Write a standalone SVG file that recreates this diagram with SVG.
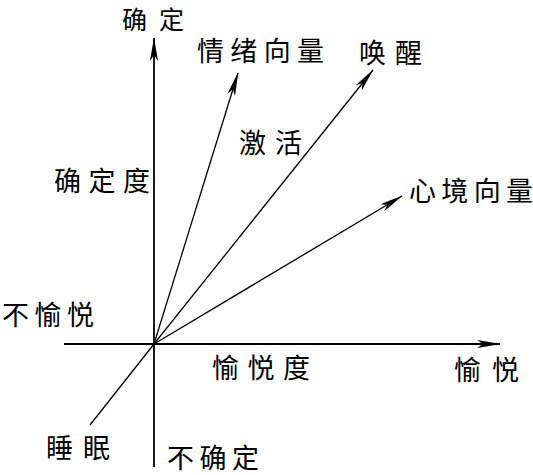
<svg xmlns="http://www.w3.org/2000/svg" width="533" height="475" viewBox="0 0 533 475">
<style>
.t{font-family:"Noto Sans CJK SC","Noto Sans CJK JP",sans-serif;font-size:27px;fill:#000}
.ax{stroke:#000;stroke-width:1.8;fill:none}
.v{stroke:#000;stroke-width:1.3;fill:none}
</style>
<defs>
<marker id="ah" viewBox="0 0 24 8" refX="23" refY="4" markerUnits="userSpaceOnUse" markerWidth="24" markerHeight="8" orient="auto">
<path d="M0,0 L24,4 L0,8 L6,4 z" fill="#000"/>
</marker>
</defs>
<rect width="533" height="475" fill="#fff"/>
<g id="connectors">
<line class="ax" x1="64" y1="344" x2="500" y2="344" marker-end="url(#ah)"/>
<line class="ax" x1="154" y1="467" x2="154" y2="38" marker-end="url(#ah)"/>
<line class="v" x1="154" y1="344" x2="238" y2="73" marker-end="url(#ah)"/>
<line class="v" x1="154" y1="344" x2="373" y2="70" marker-end="url(#ah)"/>
<line class="v" x1="154" y1="344" x2="402" y2="196" marker-end="url(#ah)"/>
<line class="v" x1="154" y1="344" x2="90" y2="425"/>
</g>
<g id="label-queding"><text class="t" x="122" y="29" style="font-size:25px" textLength="62" lengthAdjust="spacing">确定</text></g>
<g id="label-qingxu"><text class="t" x="197" y="61" textLength="127" lengthAdjust="spacing">情绪向量</text></g>
<g id="label-huanxing"><text class="t" x="359" y="63" textLength="63" lengthAdjust="spacing">唤醒</text></g>
<g id="label-jihuo"><text class="t" x="239" y="153" textLength="63" lengthAdjust="spacing">激活</text></g>
<g id="label-xinjing"><text class="t" x="409" y="201" textLength="124" lengthAdjust="spacing">心境向量</text></g>
<g id="label-quedingdu"><text class="t" x="54" y="191" textLength="96" lengthAdjust="spacing">确定度</text></g>
<g id="label-buyuyue"><text class="t" x="2" y="325" textLength="92" lengthAdjust="spacing">不愉悦</text></g>
<g id="label-yuyuedu"><text class="t" x="212" y="378" textLength="98" lengthAdjust="spacing">愉悦度</text></g>
<g id="label-yuyue"><text class="t" x="454" y="380" textLength="65" lengthAdjust="spacing">愉悦</text></g>
<g id="label-shuimian"><text class="t" x="46" y="458" textLength="64" lengthAdjust="spacing">睡眠</text></g>
<g id="label-buqueding"><text class="t" x="167" y="468" textLength="92" lengthAdjust="spacing">不确定</text></g>
</svg>
